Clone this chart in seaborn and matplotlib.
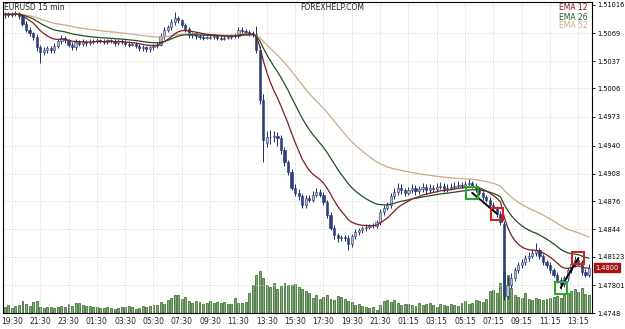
import matplotlib
matplotlib.use('Agg')
import matplotlib.pyplot as plt
import matplotlib.transforms as mtransforms
import numpy as np
import pandas as pd
import seaborn as sns

# EURUSD 15 min - velas, EMAs y volumen
time_labels = ['19:30', '21:30', '23:30', '01:30', '03:30', '05:30', '07:30', '09:30', '11:30',
               '13:30', '15:30', '17:30', '19:30', '21:30', '01:15', '03:15', '05:15', '07:15',
               '09:15', '11:15', '13:15']
price_ticks = [1.51016, 1.5069, 1.5037, 1.5006, 1.4973, 1.4940, 1.4908, 1.4876, 1.4844,
               1.48123, 1.47801, 1.4748]
price_labels = ['1.51016', '1.5069', '1.5037', '1.5006', '1.4973', '1.4940', '1.4908', '1.4876',
                '1.4844', '1.48123', '1.47801', '1.4748']

open_ = [
    1.5090, 1.5091, 1.5090, 1.5091, 1.5092, 1.5089, 1.5080, 1.5073, 1.5069, 1.5065,
    1.5053, 1.5048, 1.5050, 1.5052, 1.5050, 1.5055, 1.5060, 1.5064, 1.5061, 1.5056,
    1.5053, 1.5059, 1.5057, 1.5059, 1.5058, 1.5059, 1.5060, 1.5061, 1.5060, 1.5059,
    1.5061, 1.5060, 1.5058, 1.5060, 1.5059, 1.5057, 1.5056, 1.5057, 1.5055, 1.5052,
    1.5053, 1.5051, 1.5053, 1.5055, 1.5056, 1.5066, 1.5073, 1.5076, 1.5082, 1.5087,
    1.5084, 1.5079, 1.5074, 1.5067, 1.5069, 1.5066, 1.5065, 1.5064, 1.5064, 1.5065,
    1.5066, 1.5064, 1.5063, 1.5064, 1.5065, 1.5066, 1.5066, 1.5073, 1.5072, 1.5071,
    1.5069, 1.5068, 1.5050, 1.4993, 1.4943, 1.4950, 1.4950, 1.4951, 1.4949, 1.4935,
    1.4921, 1.4910, 1.4892, 1.4886, 1.4882, 1.4872, 1.4880, 1.4878, 1.4884, 1.4887,
    1.4884, 1.4875, 1.4861, 1.4846, 1.4837, 1.4834, 1.4835, 1.4834, 1.4827, 1.4836,
    1.4841, 1.4843, 1.4845, 1.4847, 1.4848, 1.4848, 1.4852, 1.4864, 1.4869, 1.4872,
    1.4882, 1.4887, 1.4892, 1.4889, 1.4886, 1.4889, 1.4892, 1.4888, 1.4890, 1.4893,
    1.4889, 1.4892, 1.4890, 1.4893, 1.4894, 1.4890, 1.4892, 1.4893, 1.4894, 1.4895,
    1.4894, 1.4896, 1.4897, 1.4894, 1.4890, 1.4886, 1.4881, 1.4878, 1.4872, 1.4868,
    1.4862, 1.4850, 1.4767, 1.4780, 1.4788, 1.4797, 1.4803, 1.4806, 1.4811, 1.4814,
    1.4817, 1.4820, 1.4813, 1.4806, 1.4803, 1.4797, 1.4792, 1.4786, 1.4781, 1.4788,
    1.4797, 1.4804, 1.4809, 1.4806, 1.4795, 1.4792]
high = [
    1.5094, 1.5093, 1.5094, 1.5095, 1.5094, 1.5091, 1.5083, 1.5076, 1.5071, 1.5068,
    1.5056, 1.5053, 1.5055, 1.5054, 1.5058, 1.5063, 1.5067, 1.5066, 1.5063, 1.5059,
    1.5062, 1.5061, 1.5062, 1.5061, 1.5062, 1.5062, 1.5064, 1.5063, 1.5062, 1.5063,
    1.5063, 1.5062, 1.5063, 1.5062, 1.5061, 1.5060, 1.5059, 1.5059, 1.5057, 1.5056,
    1.5055, 1.5055, 1.5057, 1.5059, 1.5069, 1.5076, 1.5079, 1.5085, 1.5093, 1.5089,
    1.5086, 1.5081, 1.5076, 1.5071, 1.5071, 1.5068, 1.5067, 1.5066, 1.5067, 1.5068,
    1.5068, 1.5066, 1.5066, 1.5067, 1.5068, 1.5069, 1.5076, 1.5076, 1.5074, 1.5073,
    1.5072, 1.5078, 1.5055, 1.4999, 1.4957, 1.4958, 1.4957, 1.4956, 1.4952, 1.4939,
    1.4924, 1.4913, 1.4896, 1.4890, 1.4885, 1.4884, 1.4883, 1.4888, 1.4891, 1.4890,
    1.4887, 1.4878, 1.4864, 1.4849, 1.4840, 1.4838, 1.4838, 1.4837, 1.4839, 1.4844,
    1.4846, 1.4848, 1.4850, 1.4850, 1.4851, 1.4855, 1.4867, 1.4872, 1.4875, 1.4886,
    1.4892, 1.4897, 1.4896, 1.4892, 1.4893, 1.4896, 1.4895, 1.4894, 1.4897, 1.4896,
    1.4896, 1.4895, 1.4897, 1.4898, 1.4897, 1.4896, 1.4897, 1.4898, 1.4899, 1.4898,
    1.4900, 1.4902, 1.4900, 1.4897, 1.4893, 1.4889, 1.4884, 1.4881, 1.4875, 1.4871,
    1.4865, 1.4854, 1.4790, 1.4794, 1.4801, 1.4807, 1.4810, 1.4815, 1.4818, 1.4822,
    1.4828, 1.4823, 1.4816, 1.4809, 1.4806, 1.4800, 1.4795, 1.4789, 1.4791, 1.4800,
    1.4808, 1.4814, 1.4812, 1.4809, 1.4799, 1.4804]
low = [
    1.5087, 1.5088, 1.5088, 1.5089, 1.5086, 1.5077, 1.5070, 1.5066, 1.5061, 1.5049,
    1.5035, 1.5044, 1.5047, 1.5047, 1.5047, 1.5052, 1.5057, 1.5058, 1.5053, 1.5050,
    1.5050, 1.5054, 1.5055, 1.5055, 1.5056, 1.5057, 1.5058, 1.5058, 1.5057, 1.5057,
    1.5058, 1.5055, 1.5056, 1.5057, 1.5054, 1.5053, 1.5054, 1.5052, 1.5049, 1.5049,
    1.5048, 1.5048, 1.5050, 1.5052, 1.5054, 1.5063, 1.5070, 1.5073, 1.5079, 1.5081,
    1.5076, 1.5071, 1.5064, 1.5064, 1.5063, 1.5062, 1.5061, 1.5062, 1.5062, 1.5063,
    1.5061, 1.5061, 1.5061, 1.5062, 1.5063, 1.5064, 1.5064, 1.5069, 1.5069, 1.5066,
    1.5065, 1.5046, 1.4988, 1.4921, 1.4938, 1.4942, 1.4944, 1.4940, 1.4930, 1.4917,
    1.4906, 1.4889, 1.4882, 1.4878, 1.4868, 1.4869, 1.4875, 1.4875, 1.4881, 1.4881,
    1.4872, 1.4857, 1.4843, 1.4833, 1.4830, 1.4831, 1.4831, 1.4820, 1.4824, 1.4833,
    1.4838, 1.4840, 1.4842, 1.4844, 1.4845, 1.4845, 1.4849, 1.4861, 1.4866, 1.4869,
    1.4879, 1.4884, 1.4885, 1.4882, 1.4883, 1.4886, 1.4884, 1.4885, 1.4887, 1.4885,
    1.4886, 1.4887, 1.4887, 1.4890, 1.4887, 1.4887, 1.4889, 1.4890, 1.4891, 1.4891,
    1.4891, 1.4893, 1.4891, 1.4887, 1.4883, 1.4878, 1.4875, 1.4869, 1.4865, 1.4858,
    1.4849, 1.4763, 1.4764, 1.4777, 1.4785, 1.4794, 1.4800, 1.4803, 1.4808, 1.4811,
    1.4814, 1.4810, 1.4803, 1.4800, 1.4794, 1.4789, 1.4782, 1.4775, 1.4778, 1.4785,
    1.4794, 1.4801, 1.4803, 1.4792, 1.4789, 1.4789]
close = [
    1.5091, 1.5090, 1.5091, 1.5092, 1.5089, 1.5080, 1.5073, 1.5069, 1.5065, 1.5053,
    1.5048, 1.5050, 1.5052, 1.5050, 1.5055, 1.5060, 1.5064, 1.5061, 1.5056, 1.5053,
    1.5059, 1.5057, 1.5059, 1.5058, 1.5059, 1.5060, 1.5061, 1.5060, 1.5059, 1.5061,
    1.5060, 1.5058, 1.5060, 1.5059, 1.5057, 1.5056, 1.5057, 1.5055, 1.5052, 1.5053,
    1.5051, 1.5053, 1.5055, 1.5056, 1.5066, 1.5073, 1.5076, 1.5082, 1.5087, 1.5084,
    1.5079, 1.5074, 1.5067, 1.5069, 1.5066, 1.5065, 1.5064, 1.5064, 1.5065, 1.5066,
    1.5064, 1.5063, 1.5064, 1.5065, 1.5066, 1.5066, 1.5073, 1.5072, 1.5071, 1.5069,
    1.5068, 1.5050, 1.4993, 1.4947, 1.4950, 1.4950, 1.4951, 1.4949, 1.4935, 1.4921,
    1.4910, 1.4892, 1.4886, 1.4882, 1.4872, 1.4880, 1.4878, 1.4884, 1.4887, 1.4884,
    1.4875, 1.4861, 1.4846, 1.4837, 1.4834, 1.4835, 1.4834, 1.4827, 1.4836, 1.4841,
    1.4843, 1.4845, 1.4847, 1.4848, 1.4848, 1.4852, 1.4864, 1.4869, 1.4872, 1.4882,
    1.4887, 1.4892, 1.4889, 1.4886, 1.4889, 1.4892, 1.4888, 1.4890, 1.4893, 1.4889,
    1.4892, 1.4890, 1.4893, 1.4894, 1.4890, 1.4892, 1.4893, 1.4894, 1.4895, 1.4894,
    1.4896, 1.4897, 1.4894, 1.4890, 1.4886, 1.4881, 1.4878, 1.4872, 1.4868, 1.4862,
    1.4853, 1.4767, 1.4780, 1.4788, 1.4797, 1.4803, 1.4806, 1.4811, 1.4814, 1.4817,
    1.4820, 1.4813, 1.4806, 1.4803, 1.4797, 1.4792, 1.4786, 1.4781, 1.4788, 1.4797,
    1.4804, 1.4809, 1.4806, 1.4795, 1.4792, 1.4800]
volume = [
    6, 8, 5, 7, 8, 12, 9, 7, 11, 12, 6, 5, 6, 6, 5, 6,
    7, 6, 9, 7, 10, 10, 8, 7, 7, 6, 6,
    5, 5, 6, 5, 4, 5, 6, 6, 7, 6, 4, 5, 7, 6,
    7, 8, 8, 11, 9, 13,
    15, 18, 18, 14, 16, 12,
    10, 12, 11, 9, 10, 12, 10, 11,
    10, 11, 9, 9, 15, 10, 10, 11, 20,
    28, 38, 42, 35, 28, 26, 30, 24, 27, 30, 28,
    28, 29, 26, 24, 22, 20, 15, 18, 14, 16,
    18, 14, 13, 17, 16, 14, 12, 11, 8, 9,
    7, 6, 5, 6, 3, 8, 12, 13, 11, 13,
    10, 8, 9, 9, 8, 7, 10, 8, 9, 10,
    8, 6, 9, 8, 7, 9, 8, 7, 10, 12,
    9, 10, 13, 12, 11, 14, 22, 23, 20, 30,
    42, 38, 25, 18, 16, 15, 20, 14, 13, 15,
    14, 13, 14, 15, 16, 17, 15, 18, 20, 22,
    24, 21, 25, 19, 18]

# operaciones (entrada verde, salida roja)
trade_idx = [132, 139, 157, 162]
trade_price = [1.4886, 1.4862, 1.4777, 1.4811]
last_price = 1.4800

df = pd.DataFrame({'open': open_, 'high': high, 'low': low, 'close': close, 'volume': volume})
df['idx'] = np.arange(len(df))
df['ema12'] = df['close'].ewm(span=12, adjust=False).mean()
df['ema26'] = df['close'].ewm(span=26, adjust=False).mean()
df['ema52'] = df['close'].ewm(span=52, adjust=False).mean()

sns.set_style('white')
plt.rcParams['font.family'] = ['DejaVu Sans']

fig = plt.figure(figsize=(6.25, 3.29), dpi=100)
rect = [3 / 625, 16 / 329, 589 / 625, 311 / 329]
ax_vol = fig.add_axes(rect)
ax = fig.add_axes(rect, sharex=ax_vol)
ax.patch.set_visible(False)

# volumen
ax_vol.bar(df['idx'], df['volume'], width=0.55, color='#7fb06e', edgecolor='#2f5f28', linewidth=0.5)
ax_vol.set_ylim(0, 311)
ax_vol.set_yticks([])
ax_vol.tick_params(axis='x', labelbottom=False, length=0)
for s in ax_vol.spines.values():
    s.set_visible(False)

# velas
up = df['close'] >= df['open']
body_lo = df[['open', 'close']].min(axis=1)
body_h = (df['close'] - df['open']).abs().clip(lower=0.00004)
ax.vlines(df['idx'], df['low'], df['high'], color='#1f2f66', lw=0.7, zorder=2)
ax.bar(df['idx'], body_h, bottom=body_lo, width=0.62,
       color=np.where(up, '#b4bfd6', '#2b3f80'), edgecolor='#24366e', linewidth=0.4, zorder=3)

# medias moviles
sns.lineplot(data=df, x='idx', y='ema52', ax=ax, color='#c9ab88', lw=0.9, zorder=4)
sns.lineplot(data=df, x='idx', y='ema26', ax=ax, color='#1f4f25', lw=0.9, zorder=4)
sns.lineplot(data=df, x='idx', y='ema12', ax=ax, color='#7c1f1f', lw=0.9, zorder=4)

# operaciones
for k in range(0, len(trade_idx), 2):
    ax.plot(trade_idx[k:k + 2], trade_price[k:k + 2], color='black', lw=1.4, zorder=5)
    ax.plot(trade_idx[k], trade_price[k], 's', ms=8.5, mfc='none', mec='#2fa52f', mew=1.5, zorder=6)
    ax.plot(trade_idx[k + 1], trade_price[k + 1], 's', ms=8.5, mfc='none', mec='#d42020', mew=1.5, zorder=6)

ax.set_xlim(-0.5, 165.85)
ax.set_ylim(1.4748, 1.5105)
ax.set_xticks(np.arange(2, 2 + 8 * len(time_labels), 8))
ax.set_xticklabels(time_labels)
ax.set_yticks(price_ticks)
ax.set_yticklabels(price_labels)
ax.yaxis.tick_right()
ax.tick_params(axis='y', length=2.5, width=0.6, pad=1, labelsize=4.8, colors='black')
ax.tick_params(axis='x', length=0, pad=3, labelsize=5.5)
ax.grid(True, color='#d4d4d4', lw=0.5, ls=(0, (2, 2)))
ax.set_xlabel('')
ax.set_ylabel('')
for s in ax.spines.values():
    s.set_visible(True)
    s.set_color('black')
    s.set_linewidth(0.8)

# etiqueta de precio actual
tr = mtransforms.blended_transform_factory(ax.transAxes, ax.transData)
ax.text(1.006, last_price, '1.4800', transform=tr, ha='left', va='center', color='white',
        fontsize=4.8, bbox=dict(fc='#a51616', ec='#a51616', pad=1.2), zorder=7)

fig.text(4 / 625, 1 - 8 / 329, 'EURUSD 15 min', fontsize=5.5, va='center')
fig.text(300 / 625, 1 - 8 / 329, 'FOREXHELP.COM', fontsize=5.5, va='center')
fig.text(559 / 625, 1 - 8 / 329, 'EMA 12', fontsize=5.5, va='center', color='#8b1a1a')
fig.text(559 / 625, 1 - 17 / 329, 'EMA 26', fontsize=5.5, va='center', color='#1f5a25')
fig.text(559 / 625, 1 - 26 / 329, 'EMA 52', fontsize=5.5, va='center', color='#c9ab88')

fig.savefig('out.png', dpi=100)
